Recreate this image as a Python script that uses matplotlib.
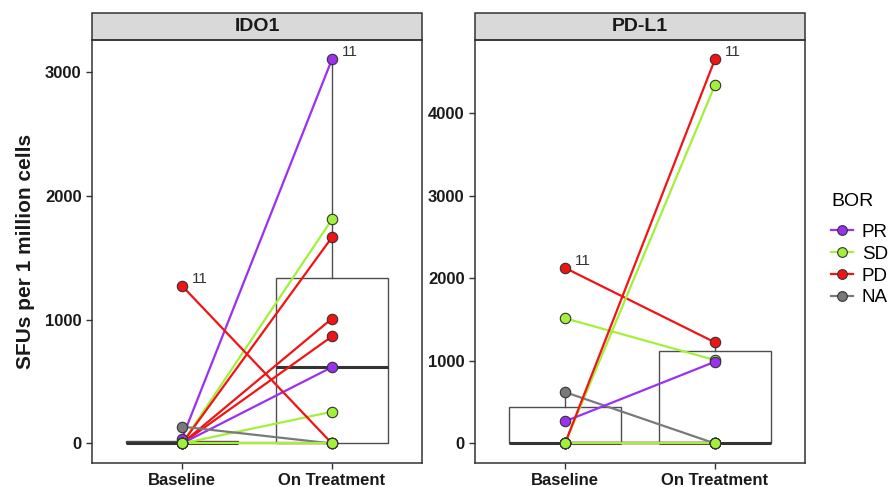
import matplotlib.pyplot as plt
from matplotlib.lines import Line2D
from matplotlib.patches import Rectangle
import numpy as np

plt.rcParams['font.family'] = ['Liberation Sans', 'DejaVu Sans']

timepoints = ['Baseline', 'On Treatment']
bor_levels = ['PR', 'SD', 'PD', 'NA']
bor_colors = {'PR': '#9B30F0', 'SD': '#A3F03A', 'PD': '#F01414', 'NA': '#7A7A7A'}

# IDO1, one entry per patient
ido1_bor = ['PD', 'PR', 'SD', 'PD', 'PD', 'PD', 'PR', 'SD', 'NA', 'PD', 'SD']
ido1_base = [0, 40, 0, 0, 0, 0, 0, 0, 136, 1272, 0]
ido1_treat = [0, 3100, 1808, 1664, 1008, 864, 616, 256, 0, 0, 0]

# PD-L1, one entry per patient
pdl1_bor = ['PD', 'PR', 'NA', 'PD', 'PD', 'SD', 'SD', 'NA', 'PR', 'PD', 'SD']
pdl1_base = [0, 0, 0, 0, 2126, 1516, 0, 622, 268, 0, 0]
pdl1_treat = [0, 0, 0, 0, 1224, 1010, 4340, 0, 990, 4653, 0]

label_text = '11'


def draw_panel(ax, title, bor, base, treat, ticks):
    ax.boxplot([base, treat], positions=[1, 2], widths=0.75, whis=1.5,
               showfliers=False, showcaps=False, patch_artist=True,
               boxprops=dict(facecolor='white', edgecolor='#4d4d4d', lw=1),
               whiskerprops=dict(color='#4d4d4d', lw=1),
               medianprops=dict(color='#333333', lw=2.2), zorder=1)
    for b, t, g in zip(base, treat, bor):
        ax.plot([1, 2], [b, t], color=bor_colors[g], lw=1.6, zorder=2,
                solid_capstyle='butt')
    for b, t, g in zip(base, treat, bor):
        ax.plot([1, 2], [b, t], ls='none', marker='o', ms=7.5,
                mfc=bor_colors[g], mec='#333333', mew=0.8, zorder=3)
    # label the top value at each timepoint
    for pos, vals in ((1, base), (2, treat)):
        i = int(np.argmax(vals))
        ax.annotate(label_text, (pos, vals[i]), xytext=(7, 2),
                    textcoords='offset points', fontsize=11, color='#333333')

    ymax = max(max(base), max(treat))
    ax.set_ylim(-0.05 * ymax, 1.05 * ymax)
    ax.set_xlim(0.4, 2.6)
    ax.set_xticks([1, 2], timepoints)
    ax.set_yticks(ticks)
    ax.tick_params(axis='both', length=4, width=1, color='#333333',
                   labelsize=12, labelcolor='#1a1a1a')
    for lab in ax.get_xticklabels() + ax.get_yticklabels():
        lab.set_fontweight('bold')
    for s in ax.spines.values():
        s.set_color('#333333')
        s.set_linewidth(1.1)

    # facet strip
    h = 27 / 422.7
    ax.add_patch(Rectangle((0, 1), 1, h, transform=ax.transAxes,
                           facecolor='#D9D9D9', edgecolor='#333333', lw=1.1,
                           clip_on=False))
    ax.text(0.5, 1 + h / 2, title, transform=ax.transAxes, ha='center',
            va='center', fontsize=14, fontweight='bold', color='#1a1a1a')


fig = plt.figure(figsize=(8.94, 4.87), dpi=100)
ax1 = fig.add_axes([92 / 894, 1 - 462.7 / 487, 330 / 894, 422.7 / 487])
ax2 = fig.add_axes([475 / 894, 1 - 462.7 / 487, 330 / 894, 422.7 / 487])

draw_panel(ax1, 'IDO1', ido1_bor, ido1_base, ido1_treat, [0, 1000, 2000, 3000])
draw_panel(ax2, 'PD-L1', pdl1_bor, pdl1_base, pdl1_treat, [0, 1000, 2000, 3000, 4000])

fig.text(26 / 894, 1 - 251 / 487, 'SFUs per 1 million cells', rotation=90,
         ha='center', va='center', fontsize=15, fontweight='bold', color='#1a1a1a')

handles = [Line2D([0], [0], color=bor_colors[g], lw=1.6, marker='o', ms=7,
                  mfc=bor_colors[g], mec='#333333', mew=0.8) for g in bor_levels]
leg = fig.legend(handles, bor_levels, title='BOR', loc='upper left',
                 bbox_to_anchor=(831 / 894, 1 - 193 / 487), frameon=False,
                 fontsize=13.5, title_fontsize=14, handlelength=1.15,
                 handletextpad=0.5, labelspacing=0.25, borderpad=0,
                 borderaxespad=0)
leg._legend_box.align = 'left'
leg._legend_box.sep = 10

fig.savefig('out.png', dpi=100)
